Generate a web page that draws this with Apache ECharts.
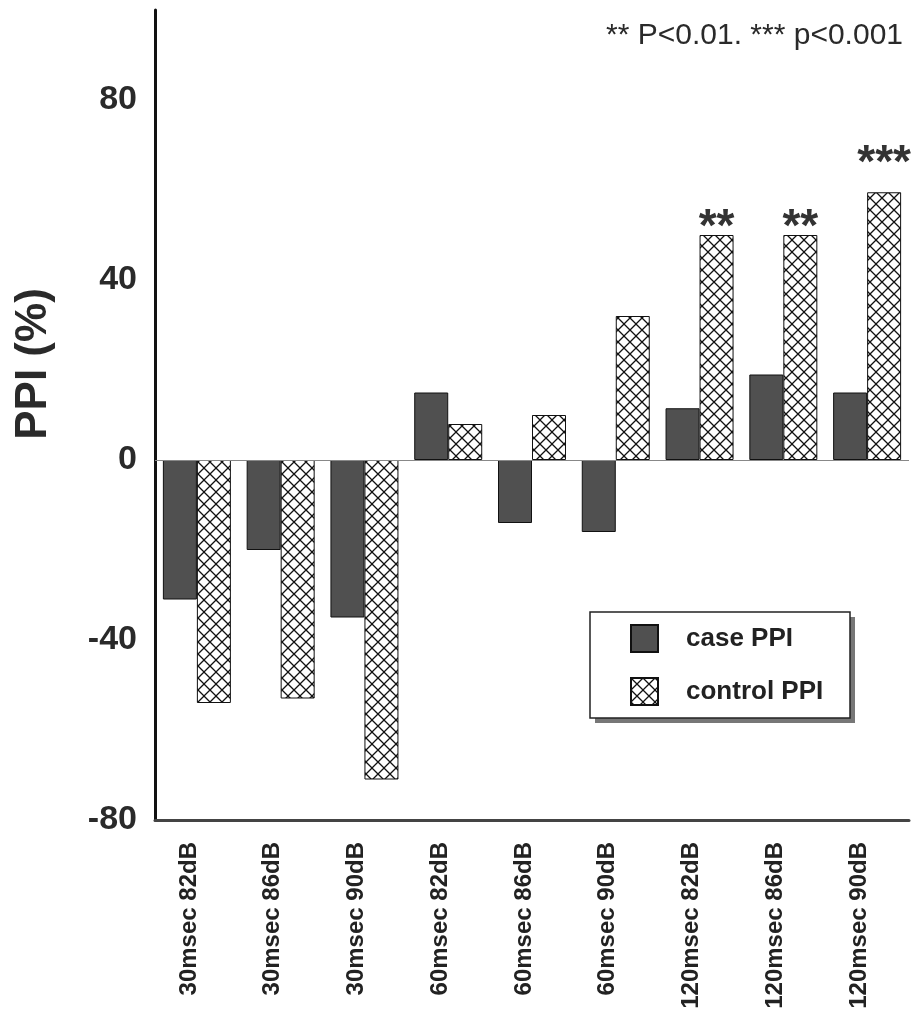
<!DOCTYPE html>
<html>
<head>
<meta charset="utf-8">
<title>PPI</title>
<script src="https://cdn.jsdelivr.net/npm/echarts@6/dist/echarts.min.js"></script>
<style>
    html, body { margin: 0; padding: 0; background: #fff; }
    #main { width: 918px; height: 1031px; }
</style>
</head>
<body>
<div id="main"></div>
<script>
//数据
var categories = ['30msec 82dB', '30msec 86dB', '30msec 90dB', '60msec 82dB', '60msec 86dB',
    '60msec 90dB', '120msec 82dB', '120msec 86dB', '120msec 90dB'];
var casePPI = [-31, -20, -35, 15, -14, -16, 11.5, 19, 15];
var controlPPI = [-54, -53, -71, 8, 10, 32, 50, 50, 59.5];
var stars = ['', '', '', '', '', '', '**', '**', '***'];
var starOffset = [0, 0, 0, 0, 0, 0, 16, 16, -5];

var fontFam = '"Liberation Sans", Arial, sans-serif';

//交叉网格填充
function hatchPattern() {
    var c = document.createElement('canvas');
    c.width = 12;
    c.height = 12;
    var ctx = c.getContext('2d');
    ctx.fillStyle = '#fff';
    ctx.fillRect(0, 0, 12, 12);
    ctx.strokeStyle = '#111';
    ctx.lineWidth = 1.3;
    ctx.beginPath();
    ctx.moveTo(-1, -1);
    ctx.lineTo(13, 13);
    ctx.moveTo(13, -1);
    ctx.lineTo(-1, 13);
    ctx.stroke();
    return c;
}

var controlData = controlPPI.map(function (v, i) {
    var item = { value: v };
    if (stars[i]) {
        item.label = {
            show: true,
            formatter: stars[i],
            offset: [0, starOffset[i]]
        };
    }
    return item;
});

var myChart = echarts.init(document.getElementById('main'));
var option = {
    backgroundColor: '#fff',
    animation: false,
    grid: {
        left: 155,
        right: 9,
        top: 10,
        bottom: 211
    },
    legend: {
        orient: 'vertical',
        left: 630,
        top: 624,
        padding: 0,
        itemWidth: 27,
        itemHeight: 27,
        itemGap: 24,
        icon: 'rect',
        textStyle: {
            fontFamily: fontFam,
            fontSize: 26,
            fontWeight: 'bold',
            color: '#222',
            padding: [0, 0, 0, 23]
        },
        data: ['case PPI', 'control PPI']
    },
    xAxis: {
        type: 'category',
        data: categories,
        axisTick: { show: false },
        axisLine: {
            onZero: false,
            lineStyle: { color: '#444', width: 3 }
        },
        axisLabel: {
            rotate: 90,
            interval: 0,
            margin: 22,
            verticalAlign: 'bottom',
            lineHeight: 16,
            fontFamily: fontFam,
            fontSize: 24,
            fontWeight: 'bold',
            color: '#222'
        }
    },
    yAxis: {
        type: 'value',
        min: -80,
        max: 100,
        interval: 40,
        splitLine: { show: false },
        axisTick: { show: false },
        axisLine: {
            show: true,
            lineStyle: { color: '#111', width: 3 }
        },
        axisLabel: {
            showMaxLabel: false,
            margin: 18,
            fontFamily: fontFam,
            fontSize: 34,
            fontWeight: 'bold',
            color: '#2a2a2a'
        }
    },
    graphic: [
        {
            type: 'text',
            x: 34,
            y: 364,
            rotation: Math.PI / 2,
            style: {
                text: 'PPI (%)',
                align: 'center',
                verticalAlign: 'middle',
                fontFamily: fontFam,
                fontSize: 44,
                fontWeight: 'bold',
                fill: '#2a2a2a'
            }
        },
        {
            type: 'text',
            x: 903,
            y: 21,
            style: {
                text: '** P<0.01. *** p<0.001',
                align: 'right',
                verticalAlign: 'top',
                fontFamily: fontFam,
                fontSize: 30,
                fill: '#2a2a2a'
            }
        },
        //图例外框和阴影
        {
            type: 'rect',
            shape: { x: 595, y: 617, width: 260, height: 106 },
            style: { fill: '#777' }
        },
        {
            type: 'rect',
            shape: { x: 590, y: 612, width: 260, height: 106 },
            style: { fill: '#fff', stroke: '#222', lineWidth: 1.5 }
        }
    ],
    series: [
        {
            name: 'case PPI',
            type: 'bar',
            barWidth: 34,
            barGap: '0%',
            data: casePPI,
            itemStyle: {
                color: '#505050',
                borderColor: '#111',
                borderWidth: 1
            },
            markLine: {
                silent: true,
                symbol: 'none',
                label: { show: false },
                lineStyle: { color: '#888', width: 1, type: 'solid' },
                data: [{ yAxis: 0 }]
            }
        },
        {
            name: 'control PPI',
            type: 'bar',
            barWidth: 34,
            barGap: '0%',
            data: controlData,
            itemStyle: {
                color: { image: hatchPattern(), repeat: 'repeat' },
                borderColor: '#111',
                borderWidth: 1
            },
            label: {
                show: false,
                position: 'top',
                distance: 0,
                fontFamily: fontFam,
                fontSize: 46,
                fontWeight: 'bold',
                color: '#333'
            }
        }
    ]
};
myChart.setOption(option);
</script>
</body>
</html>
